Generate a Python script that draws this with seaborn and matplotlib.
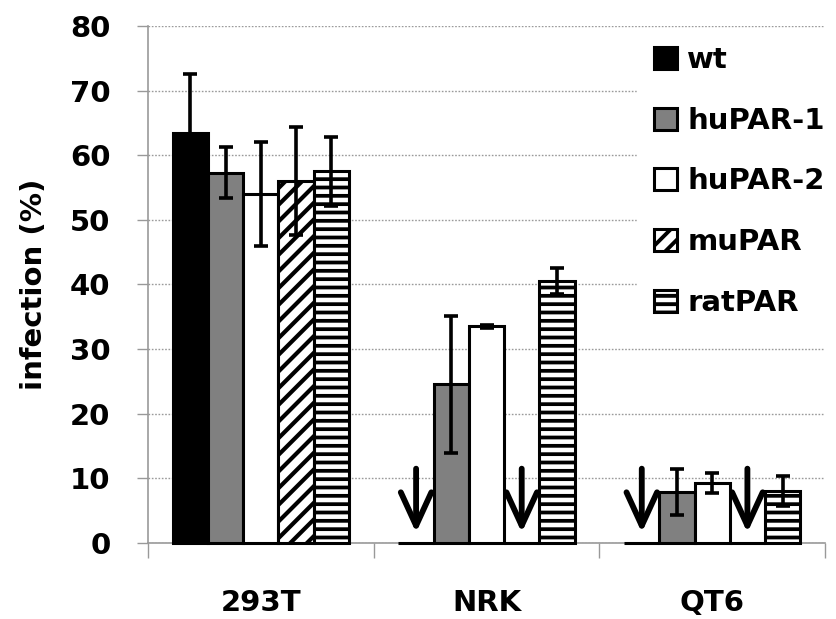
import numpy as np
import pandas as pd
import matplotlib
matplotlib.use("Agg")
import matplotlib.pyplot as plt
import seaborn as sns

cells = ["293T", "NRK", "QT6"]
constructs = ["wt", "huPAR-1", "huPAR-2", "muPAR", "ratPAR"]
values = {
    "wt":      [63.5, 0.0, 0.0],
    "huPAR-1": [57.3, 24.6, 7.9],
    "huPAR-2": [54.0, 33.5, 9.3],
    "muPAR":   [56.0, 0.0, 0.0],
    "ratPAR":  [57.5, 40.5, 8.1],
}
errors = {
    "wt":      [9.0, 0.0, 0.0],
    "huPAR-1": [3.9, 10.6, 3.6],
    "huPAR-2": [8.0, 0.3, 1.6],
    "muPAR":   [8.3, 0.0, 0.0],
    "ratPAR":  [5.3, 2.0, 2.3],
}
face_colors = ["#000000", "#808080", "#ffffff", "#ffffff", "#ffffff"]
hatches = [None, None, None, "//", "--"]
hatch_lw = [None, None, None, 3.0, 2.7]
yticks = [0, 10, 20, 30, 40, 50, 60, 70, 80]

rows = []
for c in constructs:
    for i, cell in enumerate(cells):
        rows.append({"cell": cell, "construct": c, "value": values[c][i], "err": errors[c][i]})
df = pd.DataFrame(rows)

sns.set_style("white")
plt.rcParams["font.family"] = ["DejaVu Sans"]
plt.rcParams["font.weight"] = "bold"
plt.rcParams["text.color"] = "black"
plt.rcParams["axes.labelcolor"] = "black"
plt.rcParams["xtick.color"] = "black"
plt.rcParams["ytick.color"] = "black"
plt.rcParams["hatch.linewidth"] = 2.8
plt.rcParams["hatch.color"] = "black"

FS = 21

fig = plt.figure(figsize=(8.37, 6.19), dpi=100)
ax = fig.add_axes([0.1768, 0.1228, 0.9857 - 0.1768, 0.958 - 0.1228])

sns.barplot(data=df, x="cell", y="value", hue="construct", order=cells,
            hue_order=constructs, palette=face_colors, width=0.78,
            errorbar=None, legend=False, saturation=1, ax=ax,
            edgecolor="black", linewidth=2.2)

bar_conts = list(ax.containers)
for k, cont in enumerate(bar_conts):
    c = constructs[k]
    for j, bar in enumerate(cont.patches):
        bar.set_facecolor(face_colors[k])
        bar.set_edgecolor("black")
        bar.set_linewidth(2.2)
        bar.set_zorder(3)
        bar.set_clip_on(False)
        if hatches[k]:
            bar.set_hatch(hatches[k])
            if hasattr(bar, "set_hatch_linewidth"):
                bar.set_hatch_linewidth(hatch_lw[k])
        xc = bar.get_x() + bar.get_width() / 2
        v = values[c][j]
        e = errors[c][j]
        if v > 0:
            ax.errorbar(xc, v, yerr=e, fmt="none", ecolor="black",
                        elinewidth=2.6, capsize=5, capthick=2.6, zorder=5)
        else:
            ax.annotate("", xy=(xc, 1.6), xytext=(xc, 11.5),
                        arrowprops=dict(arrowstyle="->,head_length=1.2,head_width=0.55",
                                        mutation_scale=20, lw=4.2,
                                        color="black", shrinkA=0, shrinkB=0),
                        zorder=6)

ax.set_ylim(0, 80)
ax.set_xlim(-0.5, 2.5)
ax.set_yticks(yticks)
ax.set_yticklabels([str(t) for t in yticks], fontsize=FS, fontweight="bold", color="black")
ax.set_xticks(range(len(cells)))
ax.set_xticklabels(cells, fontsize=FS, fontweight="bold", color="black")
ax.set_xticks([-0.5, 0.5, 1.5, 2.5], minor=True)
ax.tick_params(axis="x", which="major", length=0, pad=33)
ax.tick_params(axis="x", which="minor", length=11, width=1, color="#999999", direction="out", bottom=True)
ax.tick_params(axis="y", which="major", length=8, width=1, color="#999999", direction="out", pad=19, left=True)
ax.set_xlabel("")
ax.set_ylabel("infection (%)", fontsize=FS, fontweight="bold", labelpad=16, color="black")

ax.yaxis.grid(True, linestyle=(0, (1.2, 1.2)), color="#9a9a9a", linewidth=1)
ax.set_axisbelow(True)
for s in ["top", "right"]:
    ax.spines[s].set_visible(False)
for s in ["left", "bottom"]:
    ax.spines[s].set_color("#999999")
    ax.spines[s].set_linewidth(1.2)

leg = ax.legend(bar_conts, constructs, loc="upper left",
                bbox_to_anchor=(0.722, 0.995), frameon=True, framealpha=1,
                facecolor="white", edgecolor="white", fontsize=FS,
                handlelength=0.78, handleheight=0.78, handletextpad=0.35,
                labelspacing=1.12, borderpad=0.6, borderaxespad=0)
for t in leg.get_texts():
    t.set_fontweight("bold")
    t.set_color("black")
leg.set_zorder(10)

fig.savefig("out.png", dpi=100)
